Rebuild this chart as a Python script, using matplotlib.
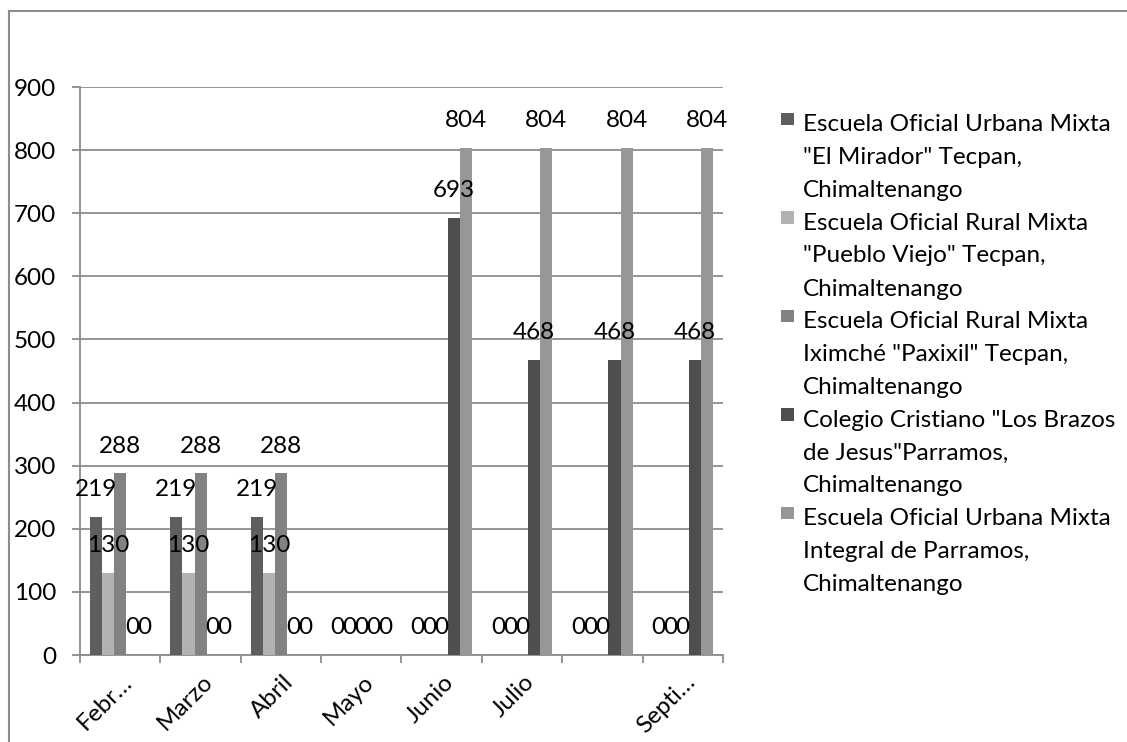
import matplotlib
matplotlib.use("Agg")
import matplotlib.pyplot as plt
from matplotlib.patches import Rectangle
from matplotlib.lines import Line2D
import matplotlib.transforms as mtransforms
import numpy as np

months = ["Febr\u2026", "Marzo", "Abril", "Mayo", "Junio", "Julio", "", "Septi\u2026"]
series_names = [
    ['Escuela Oficial Urbana Mixta', '"El Mirador" Tecpan,', 'Chimaltenango'],
    ['Escuela Oficial Rural Mixta', '"Pueblo Viejo" Tecpan,', 'Chimaltenango'],
    ['Escuela Oficial Rural Mixta', 'Iximché "Paxixil" Tecpan,', 'Chimaltenango'],
    ['Colegio Cristiano "Los Brazos', 'de Jesus"Parramos,', 'Chimaltenango'],
    ['Escuela Oficial Urbana Mixta', 'Integral de Parramos,', 'Chimaltenango'],
]
s1 = [219, 219, 219, 0, 0, 0, 0, 0]
s2 = [130, 130, 130, 0, 0, 0, 0, 0]
s3 = [288, 288, 288, 0, 0, 0, 0, 0]
s4 = [0, 0, 0, 0, 693, 468, 468, 468]
s5 = [0, 0, 0, 0, 804, 804, 804, 804]
series = [s1, s2, s3, s4, s5]
colors = ["#5e5e5e", "#b2b2b2", "#828282", "#4e4e4e", "#979797"]
yticks = [0, 100, 200, 300, 400, 500, 600, 700, 800, 900]

FONT = "Lato"
FS = 17.5
plt.rcParams['font.family'] = [FONT, 'DejaVu Sans']

W, H = 1127, 742
fig = plt.figure(figsize=(W / 100, H / 100), dpi=100)

def fx(x):
    return x / W

def fy(y):
    return 1 - y / H

left, right, top, bottom = 80, 723, 87, 655
ax = fig.add_axes([fx(left), fy(bottom), fx(right) - fx(left), fy(top) - fy(bottom)])

n = len(months)
x = np.arange(n)
nser = len(series)
bw = 0.15
for i, (vals, c) in enumerate(zip(series, colors)):
    pos = x - 0.5 + 0.125 + bw * (i + 0.5)
    ax.bar(pos, vals, width=bw, color=c, zorder=3, linewidth=0)
    for px_, v in zip(pos, vals):
        ax.annotate(str(v), (px_, v), xytext=(0, 19.5), textcoords="offset points",
                    ha="center", va="center", fontsize=FS, color="black", zorder=5)

ax.set_xlim(-0.5, n - 0.5)
ax.set_ylim(0, 900)
ax.set_yticks(yticks)
ax.set_yticklabels([str(t) for t in yticks], fontsize=FS)
ax.yaxis.grid(True, color="#8c8c8c", linewidth=1.3, zorder=0)
ax.set_axisbelow(True)

for s in ["top", "right"]:
    ax.spines[s].set_visible(False)
for s in ["left", "bottom"]:
    ax.spines[s].set_color("#8c8c8c")
    ax.spines[s].set_linewidth(1.3)

ax.tick_params(axis="y", length=6, width=1.3, color="#8c8c8c", pad=11)
ax.set_xticks(x)
ax.set_xticklabels(months, fontsize=FS, rotation=45, ha="right", va="center",
                   rotation_mode="anchor")
ax.tick_params(axis="x", which="major", length=0, pad=17)
offset = mtransforms.ScaledTranslation(9 / 100, 0, fig.dpi_scale_trans)
for lbl in ax.get_xticklabels():
    lbl.set_transform(lbl.get_transform() + offset)
ax.set_xticks(np.arange(-0.5, n, 1), minor=True)
ax.tick_params(axis="x", which="minor", length=6, width=1.3, color="#8c8c8c")

# chart border (top and left visible)
fig.add_artist(Line2D([fx(9), fx(9)], [fy(11), fy(742)], color="#8c8c8c", linewidth=1.5))
fig.add_artist(Line2D([fx(9), fx(1127)], [fy(11), fy(11)], color="#8c8c8c", linewidth=1.5))

# legend
base0 = 131
line_sp = 33
entry_sp = 98.5
for i, (lines, c) in enumerate(zip(series_names, colors)):
    b = base0 + i * entry_sp
    fig.add_artist(Rectangle((fx(781), fy(b - 6)), fx(12.5), fy(0) - fy(12.5),
                             transform=fig.transFigure, color=c, linewidth=0))
    for j, t in enumerate(lines):
        fig.text(fx(803), fy(b + j * line_sp), t, fontsize=FS, va="baseline", ha="left")

fig.savefig("out.png", dpi=100, facecolor="white")
